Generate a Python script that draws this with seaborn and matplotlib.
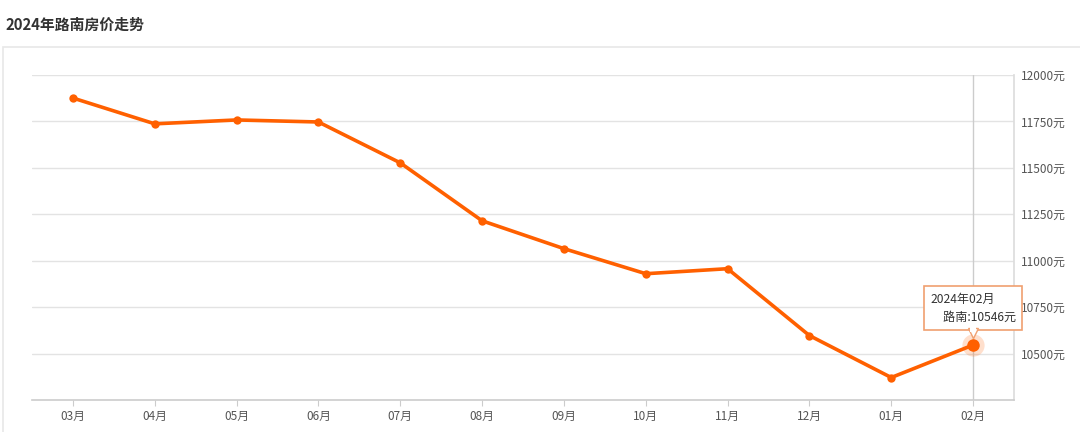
import matplotlib
matplotlib.use("Agg")
import matplotlib.pyplot as plt
import matplotlib.transforms as mtransforms
import seaborn as sns
import pandas as pd
from matplotlib.patches import Rectangle

months = ["03月", "04月", "05月", "06月", "07月", "08月",
          "09月", "10月", "11月", "12月", "01月", "02月"]
prices = [11876, 11737, 11758, 11747, 11527, 11215,
          11065, 10930, 10957, 10597, 10371, 10546]
y_ticks = [10500, 10750, 11000, 11250, 11500, 11750, 12000]
title = "2024年路南房价走势"
tip_title = "2024年02月"
tip_series = "路南"

line_color = "#ff6000"
grid_color = "#e3e3e3"
label_color = "#555555"

sns.set_theme(style="white")
plt.rcParams['font.family'] = ['Noto Sans CJK SC', 'DejaVu Sans']

df = pd.DataFrame({"month": months, "price": prices})

fig = plt.figure(figsize=(10.8, 4.32), dpi=100)
ax = fig.add_axes([32 / 1080, 1 - 400 / 432, (1014 - 32) / 1080, (400 - 75) / 432])

# outer panel frame
fig.patches.append(Rectangle((3 / 1080, -0.1), 1.2, 1 - 47 / 432 + 0.1,
                             transform=fig.transFigure, fill=False,
                             edgecolor="#e8e8e8", linewidth=1.2))
fig.text(5 / 1080, 1 - 25 / 432, title, fontsize=10.7, fontweight="bold",
         color="#333333", va="center", ha="left")

sns.lineplot(data=df, x="month", y="price", sort=False, ax=ax,
             color=line_color, linewidth=2.6, marker="o", markersize=6,
             markeredgewidth=0, zorder=3)

ax.set_xlim(-0.5, len(months) - 0.5)
ax.set_ylim(10250, 12000)
ax.set_yticks(y_ticks)
ax.set_yticklabels([f"{v}元" for v in y_ticks])
ax.yaxis.tick_right()
ax.set_xlabel("")
ax.set_ylabel("")
ax.grid(axis="y", color=grid_color, linewidth=1)
ax.grid(axis="x", visible=False)
for s in ["left", "top"]:
    ax.spines[s].set_visible(False)
ax.spines["bottom"].set_color("#cccccc")
ax.spines["bottom"].set_linewidth(1.2)
ax.spines["right"].set_color("#dddddd")
ax.tick_params(axis="x", colors=label_color, labelsize=8.5, length=4,
               width=0.8, direction="out", pad=3, bottom=True)
ax.tick_params(axis="x", color="#cccccc")
ax.tick_params(axis="y", colors=label_color, labelsize=8.5, length=0, pad=5)

# hover crosshair and highlighted point
last = len(months) - 1
ax.axvline(last, color="#cccccc", linewidth=1, zorder=1)
ax.plot(last, prices[-1], "o", color=line_color, alpha=0.2,
        markersize=16, markeredgewidth=0, zorder=4)
ax.plot(last, prices[-1], "o", color=line_color, markersize=9,
        markeredgewidth=0, zorder=5)

# tooltip
ax.annotate(f"{tip_title}\n\u3000{tip_series}:{prices[-1]}元",
            xy=(last, prices[-1]), xytext=(0, 15.5), textcoords="offset points",
            ha="center", va="bottom", fontsize=8.7, color="#333333",
            linespacing=1.5, multialignment="left", zorder=6,
            bbox=dict(boxstyle="square,pad=0.5", facecolor="white",
                      edgecolor="#f0a070", linewidth=1.2))
ax.plot([last], [prices[-1]], marker="v", markersize=7, color="white",
        markeredgecolor="#f0a070", markeredgewidth=1.0, zorder=7,
        transform=ax.transData + mtransforms.ScaledTranslation(
            0, 9 / 72, fig.dpi_scale_trans))
# hide the box border behind the arrow
ax.plot([last], [prices[-1]], marker="s", markersize=4.5, color="white",
        markeredgewidth=0, zorder=8,
        transform=ax.transData + mtransforms.ScaledTranslation(
            0, 11.6 / 72, fig.dpi_scale_trans))

fig.savefig("out.png", dpi=100)
